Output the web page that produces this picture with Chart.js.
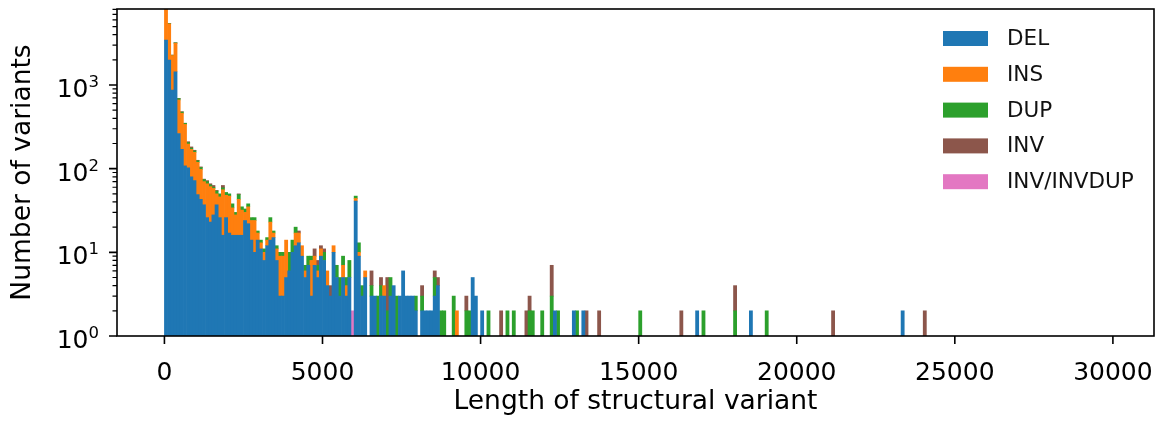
<!DOCTYPE html>
<html>
<head>
<meta charset="utf-8">
<script src="https://cdn.jsdelivr.net/npm/chart.js@4"></script>
<style>
  html, body { margin: 0; padding: 0; background: #fff; }
  #wrap { width: 1161px; height: 421px; position: relative; }
</style>
</head>
<body>
<div id="wrap"><canvas id="sv-hist"></canvas></div>
<script>
// histogram bins are 100 bp wide, starting at 0
const binWidth = 100;

// counts for bins 0..88 (0 - 8900 bp)
const delCounts = [
  3440, 1980, 870, 1440, 263, 170, 108, 102, 80, 72,
  49, 43, 37, 26, 23, 28, 37, 26, 16, 26,
  17, 16, 16, 16, 16, 24, 22, 14, 10, 14,
  11, 8, 12, 14, 15, 8, 3, 3, 5, 6,
  10, 12, 13, 9, 5, 7, 3, 7, 5, 9,
  8, 4, 3, 10, 5, 3, 5, 3, 5, 0,
  41, 9, 3, 5, 0, 3, 3, 0, 3, 3,
  0, 3, 4, 0, 3, 6, 3, 3, 3, 2,
  0, 2, 2, 2, 2, 3, 4, 0, 0
];
const insCounts = [
  6000, 3400, 1380, 1720, 400, 290, 230, 95, 90, 85,
  70, 55, 33, 40, 38, 30, 13, 20, 40, 22,
  30, 18, 12, 27, 16, 6, 13, 10, 14, 3,
  2, 2, 2, 9, 2, 3, 6, 6, 9, 0,
  0, 5, 4, 3, 1, 0, 5, 2, 1, 2,
  0, 2, 0, 2, 0, 0, 2, 1, 0, 0,
  3, 1, 0, 1, 0, 0, 0, 0, 0, 1
];
const dupCounts = [
  30, 40, 20, 30, 25, 15, 10, 8, 6, 6,
  5, 5, 4, 4, 3, 2, 4, 4, 3, 4,
  3, 4, 2, 6, 3, 3, 3, 2, 2, 1,
  1, 1, 1, 3, 1, 1, 1, 1, 0, 4,
  4, 3, 0, 0, 1, 2, 1, 0, 1, 0,
  2, 0, 0, 0, 2, 2, 2, 1, 3, 0,
  3, 3, 1, 0, 0, 1, 0, 3, 1, 0,
  2, 2, 0, 3, 0, 0, 0, 0, 0, 1,
  0, 1, 0, 0, 0, 2, 0, 2, 2
];
const invCounts = [
  10, 20, 10, 10, 5, 5, 2, 5, 6, 3,
  2, 2, 1, 2, 2, 3, 1, 0, 4, 0,
  0, 0, 0, 1, 0, 0, 0, 0, 0, 0,
  0, 0, 0, 0, 0, 0, 0, 0, 0, 0,
  0, 0, 1, 0, 0, 0, 0, 2, 1, 1,
  1, 0, 1, 0, 0, 0, 0, 0, 0, 0,
  0, 0, 0, 0, 0, 2, 0, 0, 1, 0,
  3, 0, 0, 0, 0, 0, 0, 0, 0, 0,
  0, 1, 0, 0, 0, 1, 1, 0, 0
];

// sparse tail beyond bin 88: [bin index, count]
const delTail = [[97, 5], [98, 3], [100, 2], [123, 2], [129, 2], [132, 2], [168, 2], [185, 2], [233, 2]];
const insTail = [[92, 2]];
const dupTail = [[91, 3], [95, 2], [96, 2], [102, 2], [108, 2], [110, 2], [115, 2], [116, 2], [119, 2],
                 [122, 3], [124, 2], [130, 2], [150, 2], [170, 2], [180, 2], [190, 2]];
const invTail = [[95, 1], [106, 2], [114, 2], [115, 1], [122, 4], [133, 2], [137, 2], [163, 2],
                 [180, 2], [211, 2], [240, 2]];
const invdupTail = [[59, 2]];

const xTicks = [0, 5000, 10000, 15000, 20000, 25000, 30000];
const yDecades = [1, 10, 100, 1000];

const FONT = 'DejaVu Sans';
Chart.defaults.font.family = FONT;
Chart.defaults.color = '#000';

function toPoints(head, tail) {
  const pts = [];
  head.forEach((c, i) => {
    if (c > 0) pts.push({ x: i * binWidth + binWidth / 2, y: c });
  });
  tail.forEach(([b, c]) => pts.push({ x: b * binWidth + binWidth / 2, y: c }));
  return pts;
}

function barSet(label, color, points) {
  return {
    label: label,
    data: points,
    backgroundColor: color,
    borderWidth: 0,
    barPercentage: 1.0,
    categoryPercentage: 1.0
  };
}

// frame, outward ticks and 10^n labels, drawn like matplotlib
const axisDecor = {
  id: 'axisDecor',
  afterDraw(chart) {
    const { ctx, chartArea: a, scales: { x, y } } = chart;
    ctx.save();
    ctx.strokeStyle = '#000';

    ctx.lineWidth = 1.6;
    ctx.beginPath();
    xTicks.forEach(v => {
      const px = x.getPixelForValue(v);
      ctx.moveTo(px, a.bottom);
      ctx.lineTo(px, a.bottom + 8);
    });
    yDecades.forEach(d => {
      const py = y.getPixelForValue(d);
      ctx.moveTo(a.left, py);
      ctx.lineTo(a.left - 8, py);
    });
    ctx.stroke();

    ctx.lineWidth = 1.2;
    ctx.beginPath();
    yDecades.forEach(d => {
      for (let m = 2; m < 10; m++) {
        const v = d * m;
        if (v > y.max) break;
        const py = y.getPixelForValue(v);
        ctx.moveTo(a.left, py);
        ctx.lineTo(a.left - 4.5, py);
      }
    });
    ctx.stroke();

    ctx.lineWidth = 1.6;
    ctx.strokeRect(a.left, a.top, a.right - a.left, a.bottom - a.top);

    // y tick labels 10^n
    ctx.fillStyle = '#000';
    ctx.textAlign = 'left';
    ctx.textBaseline = 'alphabetic';
    yDecades.forEach(d => {
      const py = y.getPixelForValue(d);
      const exp = String(Math.round(Math.log10(d)));
      ctx.font = '16.5px "' + FONT + '"';
      const ew = ctx.measureText(exp).width;
      ctx.font = '25px "' + FONT + '"';
      const bw = ctx.measureText('10').width;
      const right = a.left - 18;
      ctx.fillText('10', right - ew - bw, py + 12);
      ctx.font = '16.5px "' + FONT + '"';
      ctx.fillText(exp, right - ew, py + 2);
    });

    // legend, upper right inside the axes
    ctx.textBaseline = 'middle';
    ctx.font = '21.5px "' + FONT + '"';
    chart.data.datasets.forEach((ds, i) => {
      const cy = a.top + 29.5 + i * 35.8;
      const lx = a.right - 211;
      ctx.fillStyle = ds.backgroundColor;
      ctx.fillRect(lx, cy - 7.5, 45, 15);
      ctx.fillStyle = '#111';
      ctx.fillText(ds.label, lx + 64, cy + 1);
    });
    ctx.restore();
  }
};

new Chart(document.getElementById('sv-hist'), {
  type: 'bar',
  data: {
    datasets: [
      barSet('DEL', '#1f77b4', toPoints(delCounts, delTail)),
      barSet('INS', '#ff7f0e', toPoints(insCounts, insTail)),
      barSet('DUP', '#2ca02c', toPoints(dupCounts, dupTail)),
      barSet('INV', '#8c564b', toPoints(invCounts, invTail)),
      barSet('INV/INVDUP', '#e377c2', toPoints([], invdupTail))
    ]
  },
  options: {
    responsive: true,
    maintainAspectRatio: false,
    animation: false,
    layout: { padding: { top: 9, right: 7, left: 0, bottom: 0 } },
    plugins: {
      legend: { display: false },
      tooltip: { enabled: false }
    },
    scales: {
      x: {
        type: 'linear',
        stacked: true,
        offset: false,
        min: -1500,
        max: 31300,
        grid: { display: false },
        border: { display: false },
        afterBuildTicks: (scale) => {
          scale.ticks = xTicks.map(v => ({ value: v }));
        },
        afterFit: (scale) => {
          scale.height = 85;
          scale.paddingLeft = 0;
          scale.paddingRight = 0;
        },
        ticks: {
          autoSkip: false,
          maxRotation: 0,
          padding: 14,
          font: { size: 25 },
          callback: (v) => String(v)
        },
        title: {
          display: true,
          text: 'Length of structural variant',
          font: { size: 26.5 },
          padding: { top: 0, bottom: 3 }
        }
      },
      y: {
        type: 'logarithmic',
        stacked: true,
        min: 1,
        max: 8100,
        grid: { display: false },
        border: { display: false },
        ticks: { display: false },
        afterFit: (scale) => {
          scale.width = 117;
          scale.paddingTop = 0;
          scale.paddingBottom = 0;
        },
        title: {
          display: true,
          text: 'Number of variants',
          font: { size: 26.5 },
          padding: { top: 7, bottom: 0 }
        }
      }
    }
  },
  plugins: [axisDecor]
});
</script>
</body>
</html>
